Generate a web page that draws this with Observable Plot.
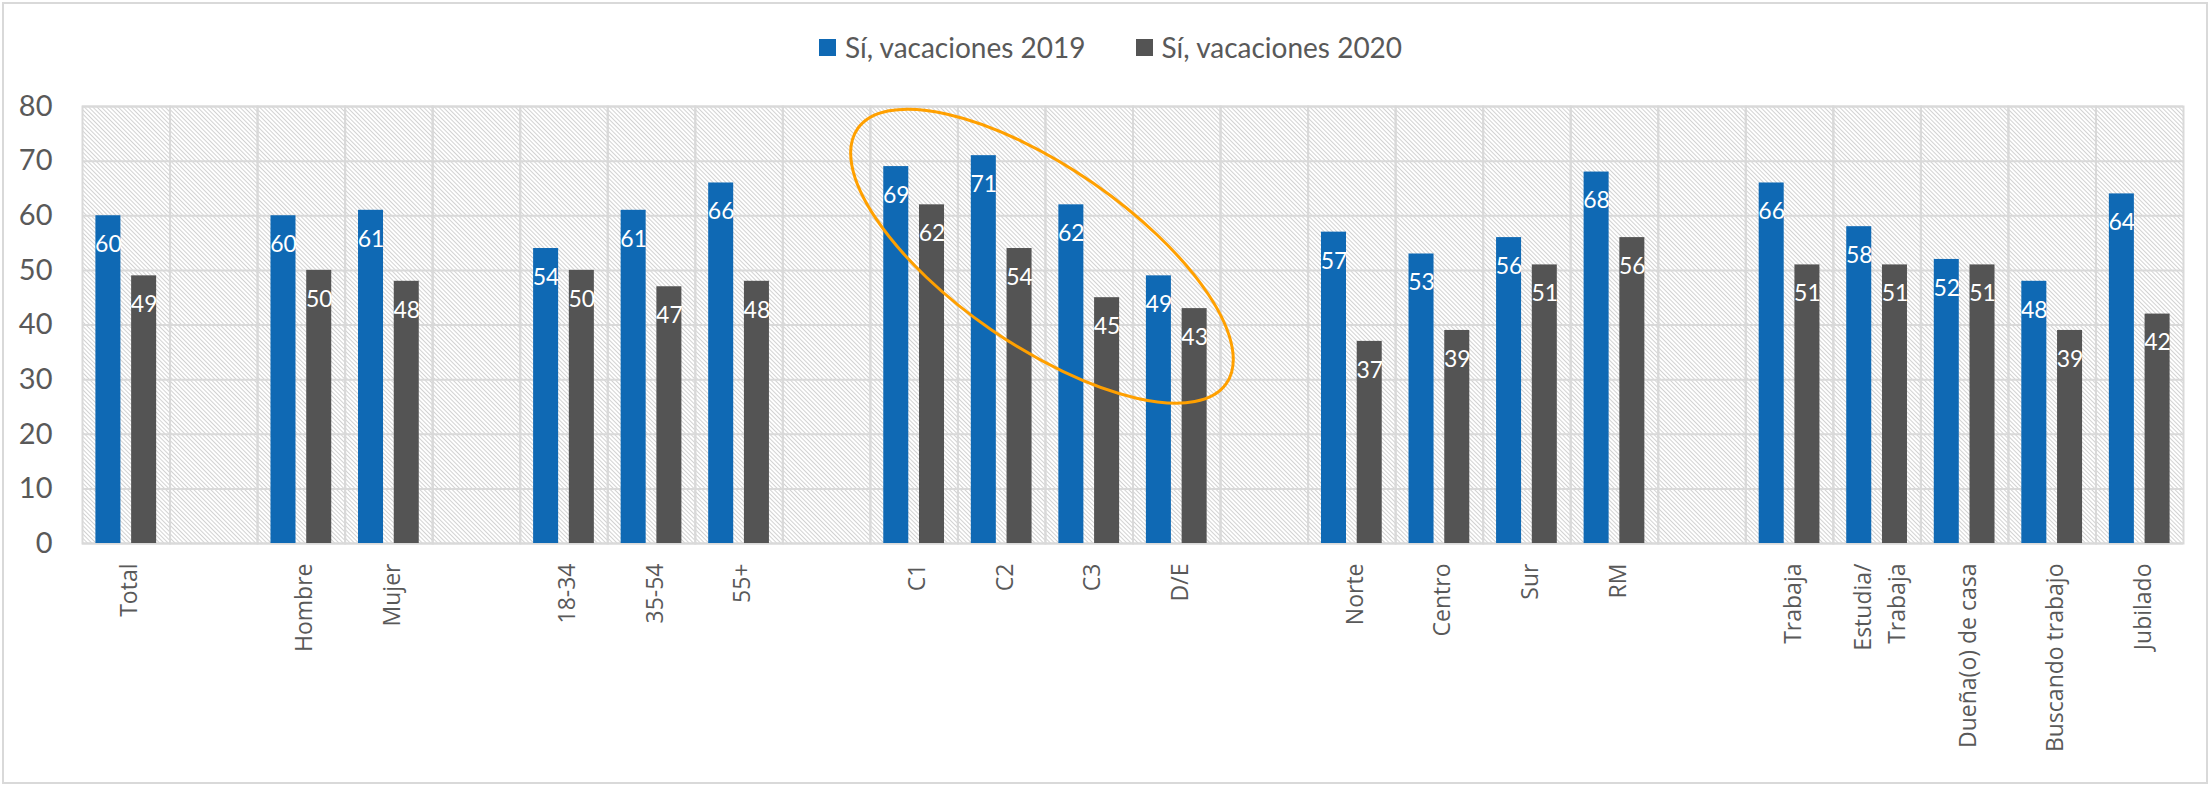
<!DOCTYPE html>
<html>
<head>
<meta charset="utf-8">
<script src="https://cdn.jsdelivr.net/npm/d3@7"></script>
<script src="https://cdn.jsdelivr.net/npm/@observablehq/plot@0.6"></script>
<style>
  body { margin: 0; background: #fff; }
  #wrap { position: relative; width: 2211px; height: 787px; overflow: hidden; background: #fff; }
  #border { position: absolute; left: 2px; top: 2px; width: 2206px; height: 782px; border: 2px solid #d9d9d9; box-sizing: border-box; pointer-events: none; }
  #legend { height: 80px; box-sizing: border-box; padding-top: 14px; padding-left: 10px; display: flex; justify-content: center; align-items: center; gap: 50px; font-family: Lato, sans-serif; font-size: 28px; color: #595959; }
  .item { display: flex; align-items: center; gap: 9px; }
  .sw { width: 17px; height: 17px; display: inline-block; }
  #chart svg { display: block; }
</style>
</head>
<body>
<svg width="0" height="0" style="position:absolute">
  <defs>
    <pattern id="hatch" patternUnits="userSpaceOnUse" width="3" height="3" patternTransform="rotate(-45)">
      <rect width="3" height="3" fill="#ffffff"></rect>
      <line x1="1.5" y1="0" x2="1.5" y2="3" stroke="#d2d2d2" stroke-width="1"></line>
    </pattern>
  </defs>
</svg>
<div id="wrap">
  <div id="legend"></div>
  <div id="chart"></div>
  <div id="border"></div>
</div>
<script>
// ---- data ----
const categories = ["Total", "_g1", "Hombre", "Mujer", "_g2", "18-34", "35-54", "55+", "_g3",
  "C1", "C2", "C3", "D/E", "_g4", "Norte", "Centro", "Sur", "RM", "_g5",
  "Trabaja", "Estudia/\nTrabaja", "Dueña(o) de casa", "Buscando trabajo", "Jubilado"];
const series = ["Sí, vacaciones 2019", "Sí, vacaciones 2020"];
const values2019 = [60, 60, 61, 54, 61, 66, 69, 71, 62, 49, 57, 53, 56, 68, 66, 58, 52, 48, 64];
const values2020 = [49, 50, 48, 50, 47, 48, 62, 54, 45, 43, 37, 39, 51, 56, 51, 51, 51, 39, 42];
const yTicks = [0, 10, 20, 30, 40, 50, 60, 70, 80];
const colors = ["#0F69B4", "#545454"];
const highlight = ["C1", "D/E"];   // group circled by the annotation
const highlightLevel = 52.5;        // value at the annotation's center

// ---- tidy rows ----
const barCategories = categories.filter(c => !c.startsWith("_"));
const rows = [];
barCategories.forEach((c, i) => {
  rows.push({cat: c, series: series[0], value: values2019[i]});
  rows.push({cat: c, series: series[1], value: values2020[i]});
});

// ---- legend ----
const legend = document.getElementById("legend");
series.forEach((s, i) => {
  const it = document.createElement("div");
  it.className = "item";
  const sw = document.createElement("span");
  sw.className = "sw";
  sw.style.background = colors[i];
  const t = document.createElement("span");
  t.textContent = s;
  it.appendChild(sw); it.appendChild(t);
  legend.appendChild(it);
});

// ---- chart ----
const plot = Plot.plot({
  width: 2211,
  height: 707,
  marginTop: 26,
  marginBottom: 244,
  marginLeft: 82,
  marginRight: 28,
  style: {background: "transparent", color: "#595959"},
  fx: {domain: categories, padding: 0, round: false},
  x: {domain: series, paddingInner: 0.3, paddingOuter: 0.375, round: false, axis: null},
  y: {domain: [0, 80]},
  color: {domain: series, range: colors},
  marks: [
    Plot.barY(categories, {fx: d => d, y1: 0, y2: 80, fill: "url(#hatch)"}),
    Plot.gridY(yTicks, {stroke: "#d9d9d9", strokeWidth: 2, strokeOpacity: 1}),
    Plot.frame({stroke: "#d9d9d9", strokeWidth: 2}),
    Plot.barY(rows, {fx: "cat", x: "series", y: "value", fill: "series"}),
    Plot.text(rows, {fx: "cat", x: "series", y: "value", text: d => String(d.value), dy: 29,
      fill: "white", fontSize: 23, fontFamily: "Lato"}),
    Plot.axisY(yTicks, {tickSize: 0, tickPadding: 30, fontSize: 29, fontFamily: "Lato", label: null}),
    Plot.axisFx({anchor: "bottom", tickRotate: -90, tickSize: 0, tickPadding: 20, fontSize: 23,
      fontFamily: "Open Sans", label: null, lineHeight: 1.5,
      tickFormat: d => d.startsWith("_") ? "" : d})
  ]
});
document.getElementById("chart").appendChild(plot);

// ---- annotation ellipse, placed through the scales ----
const fx = plot.scale("fx"), ys = plot.scale("y");
const xa = fx.apply(highlight[0]);
const xb = fx.apply(highlight[1]) + fx.bandwidth;
const cx = (xa + xb) / 2 - 3;
const cy = ys.apply(highlightLevel);
d3.select(plot).append("ellipse")
  .attr("cx", cx).attr("cy", cy)
  .attr("rx", fx.bandwidth * 2.56).attr("ry", fx.bandwidth * 1.02)
  .attr("transform", `rotate(34.6 ${cx} ${cy})`)
  .attr("fill", "none").attr("stroke", "#FFA000").attr("stroke-width", 3);
</script>
</body>
</html>
